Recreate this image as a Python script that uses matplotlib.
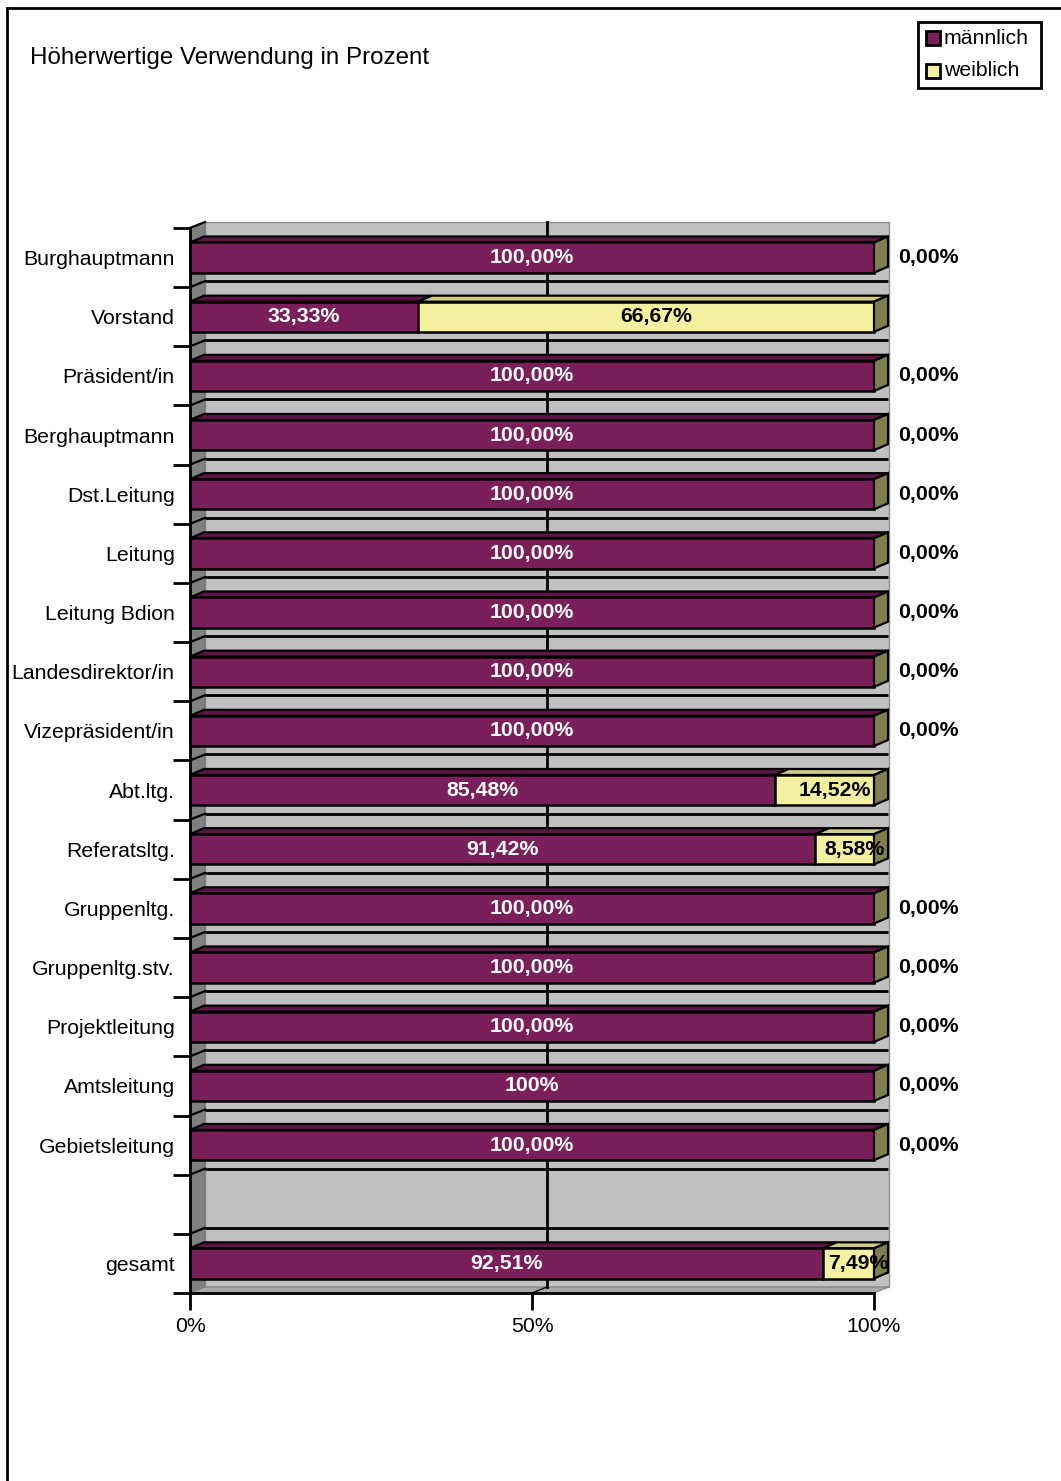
import matplotlib
matplotlib.use("Agg")
import matplotlib.pyplot as plt
from matplotlib.patches import Polygon, Rectangle
from matplotlib.lines import Line2D

plt.rcParams['font.family'] = ['Liberation Sans', 'DejaVu Sans']

# ---------------- data ----------------
categories = ["Burghauptmann", "Vorstand", "Präsident/in", "Berghauptmann",
              "Dst.Leitung", "Leitung", "Leitung Bdion", "Landesdirektor/in",
              "Vizepräsident/in", "Abt.ltg.", "Referatsltg.", "Gruppenltg.",
              "Gruppenltg.stv.", "Projektleitung", "Amtsleitung",
              "Gebietsleitung", "", "gesamt"]
maennlich = [100.00, 33.33, 100.00, 100.00, 100.00, 100.00, 100.00, 100.00,
             100.00, 85.48, 91.42, 100.00, 100.00, 100.00, 100.00, 100.00,
             None, 92.51]
weiblich = [0.00, 66.67, 0.00, 0.00, 0.00, 0.00, 0.00, 0.00,
            0.00, 14.52, 8.58, 0.00, 0.00, 0.00, 0.00, 0.00,
            None, 7.49]
maennlich_labels = ["100,00%", "33,33%", "100,00%", "100,00%", "100,00%",
                    "100,00%", "100,00%", "100,00%", "100,00%", "85,48%",
                    "91,42%", "100,00%", "100,00%", "100,00%", "100%",
                    "100,00%", "", "92,51%"]
weiblich_labels = ["0,00%", "66,67%", "0,00%", "0,00%", "0,00%", "0,00%",
                   "0,00%", "0,00%", "0,00%", "14,52%", "8,58%", "0,00%",
                   "0,00%", "0,00%", "0,00%", "0,00%", "", "7,49%"]
xticks = [0, 50, 100]
xtick_labels = ["0%", "50%", "100%"]
title = "Höherwertige Verwendung in Prozent"
series_names = ["männlich", "weiblich"]

# ---------------- style ----------------
W, H = 1061, 1481
DPI = 100
M_FRONT = "#7A1F5A"
M_TOP = "#5C1545"
F_FRONT = "#F4F0A0"
F_TOP = "#CFCB85"
SIDE = "#7F7F4E"
WALL = "#C0C0C0"
SIDE_WALL = "#808080"
FS = 15.3

fig = plt.figure(figsize=(W / DPI, H / DPI), dpi=DPI)
fig.patch.set_facecolor("white")

# outer border (top + left)
fig.add_artist(Line2D([7 / W, 1.0], [1 - 8 / H, 1 - 8 / H], transform=fig.transFigure, color="black", lw=2))
fig.add_artist(Line2D([7 / W, 7 / W], [0, 1 - 8 / H], transform=fig.transFigure, color="black", lw=2))

n = len(categories)
x0px, x1px = 190, 874
ytop, ybot = 228, 1293
ax = fig.add_axes([x0px / W, (H - ybot) / H, (x1px - x0px) / W, (ybot - ytop) / H])
ax.set_xlim(0, 100)
ax.set_ylim(n - 0.5, -0.5)
ax.set_facecolor("none")

# depth offset in data units
px_x = (x1px - x0px) / 100.0
px_y = (ybot - ytop) / n
DX = 15 / px_x
DY = -6 / px_y
bDX = 14 / px_x
bDY = -6 / px_y

# back wall
ax.add_patch(Rectangle((DX, -0.5 + DY), 100, n, facecolor=WALL, edgecolor="#909090", lw=1, zorder=0, clip_on=False))
# left wall
ax.add_patch(Polygon([(0, -0.5), (DX, -0.5 + DY), (DX, n - 0.5 + DY), (0, n - 0.5)],
                     closed=True, facecolor=SIDE_WALL, edgecolor="#707070", lw=0.8, zorder=0.5, clip_on=False))
# floor
ax.add_patch(Polygon([(0, n - 0.5), (100, n - 0.5), (100 + DX, n - 0.5 + DY), (DX, n - 0.5 + DY)],
                     closed=True, facecolor="#A8A8A8", edgecolor="#808080", lw=0.8, zorder=0.5, clip_on=False))

# horizontal gridlines (back wall + left wall)
for k in range(n + 1):
    b = k - 0.5
    if 0 < k < n:
        ax.plot([DX, 100 + DX - 0.2], [b + DY, b + DY], color="black", lw=2, zorder=1,
                clip_on=False, solid_capstyle="butt")
    if k < n:
        ax.plot([0, DX], [b, b + DY], color="black", lw=1.6, zorder=1, clip_on=False)
# vertical gridline at 50 %
ax.plot([50 + DX, 50 + DX], [-0.5 + DY, n - 0.5 + DY], color="black", lw=2, zorder=1, clip_on=False)
ax.plot([50, 50 + DX], [n - 0.5, n - 0.5 + DY], color="black", lw=1, zorder=1, clip_on=False)

half = 0.255


def segment(i, a, b, front, top, last):
    yt = i - half
    yb = i + half
    ax.add_patch(Polygon([(a, yt), (b, yt), (b + bDX, yt + bDY), (a + bDX, yt + bDY)], closed=True,
                         facecolor=top, edgecolor="black", lw=1.6, zorder=3, clip_on=False))
    ax.add_patch(Rectangle((a, yt), b - a, yb - yt, facecolor=front, edgecolor="black", lw=1.8, zorder=4, clip_on=False))
    if last:
        ax.add_patch(Polygon([(b, yt), (b + bDX, yt + bDY), (b + bDX, yb + bDY), (b, yb)], closed=True,
                             facecolor=SIDE, edgecolor="black", lw=1.6, zorder=4, clip_on=False))


for i, (m, f) in enumerate(zip(maennlich, weiblich)):
    if m is None:
        continue
    segment(i, 0, m, M_FRONT, M_TOP, False)
    segment(i, m, m + f, F_FRONT, F_TOP, True)
    ax.text(m / 2, i, maennlich_labels[i], ha="center", va="center", color="white",
            fontsize=FS, fontweight="bold", zorder=6)
    if f > 0:
        ax.text(m + f / 2 + 1.5, i, weiblich_labels[i], ha="center", va="center", color="black",
                fontsize=FS, fontweight="bold", zorder=6, clip_on=False)
    else:
        ax.text(108, i, weiblich_labels[i], ha="center", va="center", color="black",
                fontsize=FS, fontweight="bold", zorder=6, clip_on=False)

# axes, ticks
for s in ["top", "right"]:
    ax.spines[s].set_visible(False)
ax.spines["left"].set_linewidth(2)
ax.spines["bottom"].set_linewidth(2)
ax.spines["left"].set_zorder(5)
ax.spines["bottom"].set_zorder(5)
ax.set_xticks(xticks)
ax.set_xticklabels(xtick_labels, fontsize=FS)
ax.set_yticks([k - 0.5 for k in range(n + 1)], minor=False)
ax.set_yticklabels([])
ax.set_yticks(range(n), minor=True)
ax.set_yticklabels(categories, minor=True, fontsize=FS)
ax.tick_params(axis="y", which="major", length=12, width=2, direction="out")
ax.tick_params(axis="y", which="minor", length=0, pad=11)
ax.tick_params(axis="x", length=12, width=2, direction="out", pad=5)

# title
fig.text(30 / W, 1 - 58 / H, title, fontsize=17.4, ha="left", va="center")

# legend
lx, ly, lw_, lh = 918, 22, 123, 66
fig.add_artist(Rectangle((lx / W, 1 - (ly + lh) / H), lw_ / W, lh / H, transform=fig.transFigure,
                         facecolor="white", edgecolor="black", lw=2))
for j, (name, col) in enumerate(zip(series_names, [M_FRONT, F_FRONT])):
    cy = 38 + j * 33
    fig.add_artist(Rectangle((926 / W, 1 - (cy + 7) / H), 14 / W, 14 / H, transform=fig.transFigure,
                             facecolor=col, edgecolor="black", lw=2))
    fig.text(944 / W, 1 - cy / H, name, fontsize=FS, ha="left", va="center")

fig.savefig("out.png", dpi=DPI)
